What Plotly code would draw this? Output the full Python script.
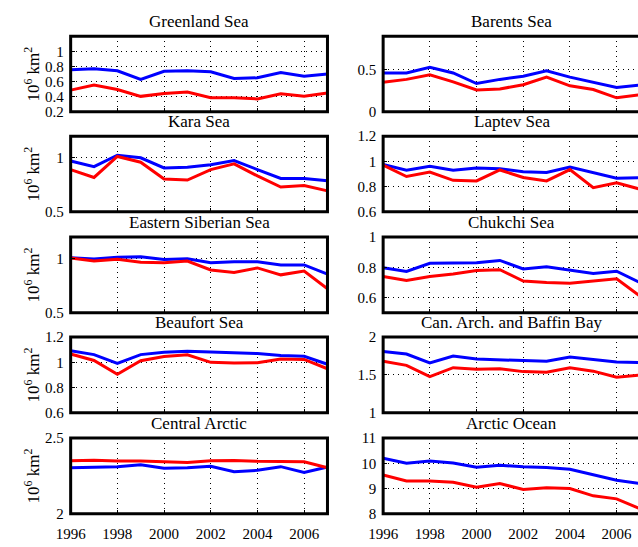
import plotly.graph_objects as go

years = list(range(1996, 2008))

titles = [
    "Greenland Sea", "Barents Sea",
    "Kara Sea", "Laptev Sea",
    "Eastern Siberian Sea", "Chukchi Sea",
    "Beaufort Sea", "Can. Arch. and Baffin Bay",
    "Central Arctic", "Arctic Ocean",
]

# blue series (upper curves in most regions), 10^6 km^2
greenland_blue = [0.756, 0.769, 0.743, 0.628, 0.735, 0.743, 0.730, 0.640, 0.650, 0.720, 0.670, 0.700]
barents_blue = [0.462, 0.462, 0.530, 0.462, 0.337, 0.386, 0.424, 0.489, 0.413, 0.348, 0.290, 0.320]
kara_blue = [0.970, 0.918, 1.024, 1.000, 0.906, 0.912, 0.935, 0.974, 0.891, 0.809, 0.809, 0.788]
laptev_blue = [0.975, 0.930, 0.962, 0.930, 0.947, 0.942, 0.917, 0.912, 0.955, 0.912, 0.867, 0.870]
esiberian_blue = [1.010, 0.997, 1.013, 1.019, 0.994, 1.000, 0.962, 0.972, 0.972, 0.943, 0.943, 0.858]
chukchi_blue = [0.798, 0.773, 0.827, 0.827, 0.831, 0.846, 0.790, 0.804, 0.783, 0.760, 0.775, 0.700]
beaufort_blue = [1.092, 1.061, 0.992, 1.061, 1.079, 1.087, 1.082, 1.077, 1.069, 1.054, 1.048, 0.985]
canarch_blue = [1.810, 1.776, 1.658, 1.750, 1.710, 1.700, 1.689, 1.680, 1.737, 1.700, 1.670, 1.662]
central_blue = [2.304, 2.307, 2.311, 2.324, 2.300, 2.304, 2.313, 2.278, 2.287, 2.311, 2.272, 2.309]
arctic_blue = [10.20, 10.00, 10.09, 10.01, 9.84, 9.92, 9.86, 9.83, 9.76, 9.54, 9.33, 9.20]

# red series
greenland_red = [0.487, 0.555, 0.495, 0.405, 0.444, 0.461, 0.388, 0.388, 0.371, 0.440, 0.405, 0.448]
barents_red = [0.352, 0.386, 0.440, 0.356, 0.261, 0.273, 0.322, 0.413, 0.310, 0.265, 0.167, 0.205]
kara_red = [0.891, 0.818, 1.012, 0.959, 0.803, 0.794, 0.891, 0.944, 0.832, 0.729, 0.744, 0.694]
laptev_red = [0.970, 0.880, 0.915, 0.850, 0.845, 0.932, 0.872, 0.845, 0.935, 0.792, 0.830, 0.780]
esiberian_red = [1.006, 0.978, 0.994, 0.968, 0.962, 0.978, 0.896, 0.873, 0.915, 0.851, 0.886, 0.722]
chukchi_red = [0.740, 0.713, 0.740, 0.756, 0.779, 0.785, 0.710, 0.700, 0.696, 0.708, 0.725, 0.610]
beaufort_red = [1.066, 1.015, 0.906, 1.013, 1.046, 1.059, 1.000, 0.995, 0.997, 1.026, 1.023, 0.949]
canarch_red = [1.680, 1.627, 1.478, 1.596, 1.574, 1.583, 1.544, 1.535, 1.596, 1.550, 1.470, 1.500]
central_red = [2.350, 2.354, 2.348, 2.348, 2.343, 2.339, 2.350, 2.352, 2.346, 2.343, 2.343, 2.304]
arctic_red = [9.54, 9.30, 9.30, 9.25, 9.05, 9.20, 8.96, 9.03, 9.00, 8.71, 8.59, 8.20]

blue_series = [greenland_blue, barents_blue, kara_blue, laptev_blue, esiberian_blue,
               chukchi_blue, beaufort_blue, canarch_blue, central_blue, arctic_blue]
red_series = [greenland_red, barents_red, kara_red, laptev_red, esiberian_red,
              chukchi_red, beaufort_red, canarch_red, central_red, arctic_red]

y_ranges = [[0.2, 1.2], [0, 0.9], [0.5, 1.2], [0.6, 1.2], [0.5, 1.2],
            [0.5, 1.0], [0.6, 1.2], [1.0, 2.0], [2.0, 2.5], [8, 11]]
y_ticks = [[0.2, 0.4, 0.6, 0.8, 1], [0, 0.5], [0.5, 1], [0.6, 0.8, 1, 1.2], [0.5, 1],
           [0.6, 0.8, 1], [0.6, 0.8, 1, 1.2], [1, 1.5, 2], [2, 2.5], [8, 9, 10, 11]]
y_ticktext = [["0.2", "0.4", "0.6", "0.8", "1"], ["0", "0.5"], ["0.5", "1"],
              ["0.6", "0.8", "1", "1.2"], ["0.5", "1"], ["0.6", "0.8", "1"],
              ["0.6", "0.8", "1", "1.2"], ["1", "1.5", "2"], ["2", "2.5"],
              ["8", "9", "10", "11"]]
x_ticks = [1996, 1998, 2000, 2002, 2004, 2006]

W, H = 638, 547
FONT = "Liberation Serif"

# panel geometry in pixels
col_left = [(57, 320), (377, 640)]
row_top = [29, 132, 236, 339, 443]
panel_h = 78
px_per_year = 263 / 11.0

fig = go.Figure()
shapes = []
annotations = []

for i in range(10):
    r, c = divmod(i, 2)
    n = i + 1
    xa = "x" if n == 1 else f"x{n}"
    ya = "y" if n == 1 else f"y{n}"
    xkey = "xaxis" if n == 1 else f"xaxis{n}"
    ykey = "yaxis" if n == 1 else f"yaxis{n}"

    x0p, x1p = col_left[c]
    x1_vis = min(x1p, W)
    top = row_top[r]
    bot = top + panel_h
    xdom = [x0p / W, x1_vis / W]
    ydom = [1 - bot / H, 1 - top / H]
    xmax = 1996 + (x1_vis - x0p) / px_per_year

    fig.add_trace(go.Scatter(x=years, y=blue_series[i], mode="lines",
                             line=dict(color="#0000ff", width=3),
                             xaxis=xa, yaxis=ya, showlegend=False))
    fig.add_trace(go.Scatter(x=years, y=red_series[i], mode="lines",
                             line=dict(color="#ff0000", width=3),
                             xaxis=xa, yaxis=ya, showlegend=False))

    bottom_row = (r == 4)
    fig.layout[xkey] = dict(
        domain=xdom, range=[1996, xmax], anchor=ya,
        tickvals=x_ticks, showticklabels=bottom_row,
        ticks="inside", ticklen=4, tickcolor="black",
        showgrid=True, gridcolor="black", griddash="1px,4px", gridwidth=1,
        zeroline=False, showline=False, ticklabelstandoff=9,
        tickfont=dict(family=FONT, size=15, color="black"),
    )
    fig.layout[ykey] = dict(
        domain=ydom, range=y_ranges[i], anchor=xa,
        tickvals=y_ticks[i], ticktext=y_ticktext[i],
        ticks="inside", ticklen=4, tickcolor="black",
        showgrid=True, gridcolor="black", griddash="1px,4px", gridwidth=1,
        zeroline=False, showline=False, ticklabelstandoff=6,
        tickfont=dict(family=FONT, size=15, color="black"),
    )

    # heavy frame around each panel
    shapes.append(dict(type="rect", xref="paper", yref="paper",
                       x0=x0p / W, x1=x1p / W, y0=ydom[0], y1=ydom[1],
                       line=dict(color="black", width=3), layer="above"))

    annotations.append(dict(text=titles[i], xref="paper", yref="paper",
                            x=(x0p + x1p) / 2 / W, y=1 - (top - 15) / H,
                            xanchor="center", yanchor="middle", showarrow=False,
                            font=dict(family=FONT, size=17, color="black")))
    if c == 0:
        annotations.append(dict(text="10<sup>6</sup> km<sup>2</sup>",
                                 xref="paper", yref="paper",
                                 x=17 / W, y=1 - (top + panel_h / 2) / H,
                                 xanchor="center", yanchor="middle",
                                 textangle=-90, showarrow=False,
                                 font=dict(family=FONT, size=17, color="black")))

fig.update_layout(
    width=W, height=H,
    margin=dict(l=0, r=0, t=0, b=0),
    paper_bgcolor="white", plot_bgcolor="white",
    shapes=shapes, annotations=annotations,
)

fig.write_html("out.html")
